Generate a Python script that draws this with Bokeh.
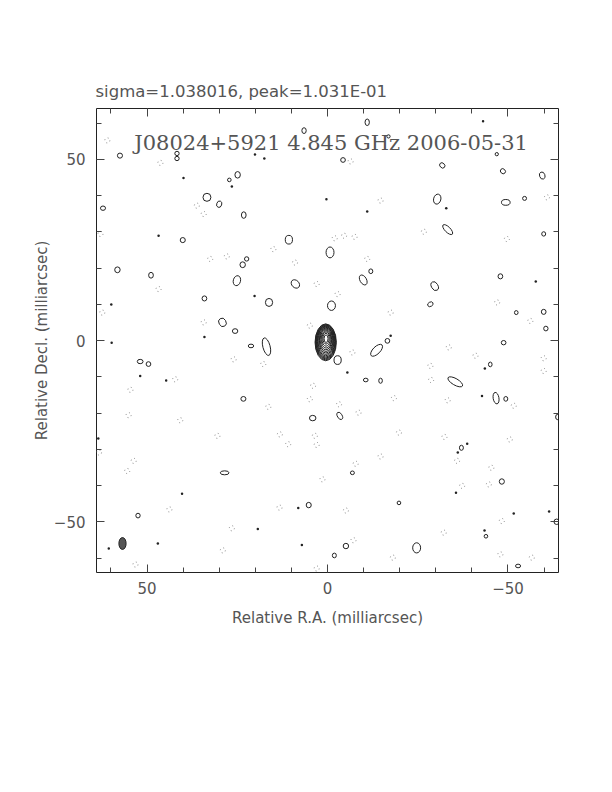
from bokeh.plotting import figure
from bokeh.models import (Range1d, LinearAxis, FixedTicker, ColumnDataSource, Label)
from bokeh.embed import file_html
from bokeh.resources import INLINE

# ---------------- data ----------------
title_text = "sigma=1.038016, peak=1.031E-01"
map_label = "J08024+5921 4.845 GHz 2006-05-31"
x_label = "Relative R.A. (milliarcsec)"
y_label = "Relative Decl. (milliarcsec)"

major_ticks = [-50, 0, 50]
major_tick_labels = ["\u221250", "0", "50"]
minor_ticks = [-60, -50, -40, -30, -20, -10, 0, 10, 20, 30, 40, 50, 60]
axis_limit = 64

# central source: nested contour ellipses (mas)
core_w = [5.9, 5.65, 5.4, 5.15, 4.9, 4.6, 4.3, 3.95, 3.6, 3.2, 2.75, 2.25, 1.7, 1.1]
core_h = [10.2, 9.8, 9.4, 9.0, 8.55, 8.05, 7.5, 6.9, 6.25, 5.55, 4.8, 3.95, 3.0, 2.1]
core_x = [0.5, 0.5, 0.5, 0.5, 0.5, 0.5, 0.5, 0.45, 0.45, 0.45, 0.4, 0.4, 0.4, 0.4]
core_y = [-0.5, -0.45, -0.4, -0.35, -0.3, -0.2, -0.1, 0.0, 0.1, 0.2, 0.3, 0.4, 0.5, 0.5]

# clean beam
beam_x = [56.8]
beam_y = [-56.0]
beam_w = [2.0]
beam_h = [3.3]

# positive noise contours
pos_x = [57.5, 41.7, 41.7, 24.9, 27.2, 33.4, 62.2, 30.0, 23.2, 40.1, 10.7, 22.4, 23.5, 58.2,
         48.9, 25.1, 8.9, 34.1, 16.2, 29.1, 25.6, 6.5,
         -11.0, -16.9, -46.9, -4.3, -31.8, -48.6, -59.5, -30.4, -49.4, -54.6, -33.3, -59.9,
         -0.7, -12.0, -9.9, -47.9, -29.7, -1.1, -28.5, -52.3, -59.9, -60.5,
         16.9, 21.2, 51.9, 49.6, 23.3, 4.1, 28.5, 52.5, 5.2,
         -13.6, -16.6, -2.8, -48.8, -45.1, -10.6, -14.7, -35.4, -46.7, -49.4, -3.4, -63.8,
         -37.1, -6.9, -48.3, -19.8, -43.9, -63.5, -5.1, -24.7, -1.9, -52.8]
pos_y = [51.0, 51.6, 50.2, 45.7, 44.3, 39.5, 36.5, 37.6, 34.6, 27.7, 27.8, 22.5, 20.9, 19.5,
         18.0, 16.5, 15.6, 11.6, 10.5, 5.0, 2.6, 57.9,
         60.2, 56.3, 51.4, 49.8, 48.3, 46.7, 45.5, 39.0, 38.1, 39.2, 30.6, 29.4,
         24.3, 19.1, 16.7, 17.7, 15.0, 9.6, 10.0, 7.7, 7.9, 3.3,
         -1.7, -1.5, -5.8, -6.5, -16.1, -21.4, -36.5, -48.3, -45.4,
         -2.7, -0.1, -5.4, -0.6, -6.6, -10.9, -11.1, -11.4, -15.9, -16.1, -20.8, -21.1,
         -29.6, -36.5, -38.9, -44.8, -54.0, -50.0, -56.7, -57.2, -59.3, -62.2]
pos_w = [1.4, 1.2, 1.2, 1.5, 1.0, 2.2, 1.4, 1.4, 1.3, 1.4, 2.0, 1.2, 1.5, 1.5,
         1.3, 2.0, 2.0, 1.3, 2.0, 2.0, 1.5, 1.2,
         1.2, 0.9, 0.9, 1.3, 1.3, 1.3, 1.5, 2.0, 2.4, 1.1, 1.5, 1.1,
         2.2, 1.1, 1.8, 1.3, 1.8, 2.2, 1.6, 1.0, 1.3, 1.2,
         2.0, 1.5, 1.6, 1.3, 1.4, 1.8, 2.4, 1.2, 1.4,
         2.0, 1.3, 2.0, 1.3, 1.0, 1.3, 1.0, 1.8, 1.6, 1.1, 1.3, 1.2,
         1.1, 1.1, 1.4, 1.0, 1.0, 1.5, 1.5, 2.2, 1.1, 1.4]
pos_h = [1.4, 1.2, 1.2, 1.8, 1.0, 2.2, 1.2, 1.8, 1.8, 1.4, 2.4, 1.2, 1.6, 1.6,
         1.6, 2.8, 2.6, 1.4, 2.2, 2.4, 1.3, 1.6,
         1.8, 0.9, 0.9, 1.3, 1.6, 1.5, 2.0, 2.8, 1.6, 1.1, 3.6, 1.2,
         3.0, 1.3, 3.0, 1.4, 2.6, 2.6, 1.2, 1.1, 1.4, 1.3,
         5.0, 1.0, 1.2, 1.3, 1.3, 1.5, 1.1, 1.3, 1.5,
         4.2, 1.3, 2.4, 1.2, 1.3, 1.0, 1.4, 4.6, 3.2, 1.3, 2.2, 1.5,
         1.4, 1.0, 1.5, 1.0, 1.0, 1.5, 1.5, 2.8, 1.3, 1.0]
pos_a = [0, 0, 0, 0, 0, 0, 0, -20, 0, 0, 0, 0, 0, 0,
         0, -15, 45, 0, 0, 30, 0, 0,
         0, 0, 0, 0, 45, 45, 20, -15, 0, 0, 45, 0,
         0, 0, 30, 0, 30, 0, 30, 0, 0, 0,
         15, 0, 0, 0, 0, 0, 0, 0, 0,
         -45, 0, 0, 0, 0, 0, 0, 60, 10, 0, 30, 0,
         0, 0, 0, 0, 0, 0, 0, 0, 0, 0]

# tiny positive islands (unresolved dots)
dot_x = [39.9, 20.1, 26.5, 46.8, 59.9, 20.2, 34.1, 17.5, 0.3,
         -43.1, -32.9, -11.0, -57.7, -17.5,
         40.3, 19.3, 8.1, 7.1, 47.0, 60.6, 63.5, 59.8, 51.9, 44.7,
         -5.5, -42.8, -43.6, -51.6, -35.6, -36.1, -38.7, -61.4, -43.5]
dot_y = [44.8, 51.3, 42.5, 28.9, 9.9, 12.3, 1.0, 50.2, 39.0,
         60.5, 36.5, 35.6, 16.3, 1.3,
         -42.3, -52.0, -46.2, -56.4, -56.0, -57.4, -27.0, -0.6, -9.8, -11.0,
         -8.8, -15.3, -7.7, -47.7, -42.0, -30.9, -28.5, -47.2, -52.4]

# negative noise contours (dotted)
neg_x = [61.0, 46.3, 34.3, 32.5, 27.9, 9.0, 3.0, 15.0, 62.9, 62.4, 46.8, 4.9, 34.3, 36.2,
         -6.4, -14.7, -4.6, -2.0, -7.5, -11.0, -26.7, -49.7, -60.8, -2.8, -17.5, -47.0, -56.2,
         17.8, 26.0, 4.9, 4.0, 42.2, 54.6, 55.1, 40.8, 30.5, 16.4, 13.2, 10.9, 3.5, 3.0,
         53.7, 55.5, 1.4, 43.8, 13.3, 26.5, 29.0, 53.2, 3.0, 63.3,
         -6.9, -33.6, -41.0, -59.9, -59.9, -28.5, -28.7, -18.4, -33.3, -3.2, -8.6, -51.6,
         -19.8, -32.4, -50.5, -7.8, -14.7, -35.9, -45.4, -37.3, -44.7, -5.1, -32.2, -7.2,
         -48.3, -47.9, -56.6, -18.1]
neg_y = [55.2, 49.0, 34.9, 22.5, 23.2, 21.5, 15.6, 25.2, 29.4, 7.7, 14.2, 4.1, 5.0, 37.2,
         49.4, 38.6, 28.9, 28.2, 28.6, 22.5, 30.0, 28.0, 39.5, 12.8, 7.7, 10.5, 5.4,
         -6.5, -5.2, -16.2, -12.5, -10.7, -13.6, -20.6, -22.0, -26.3, -18.3, -25.9, -28.6,
         -26.3, -28.8, -33.2, -36.0, -38.3, -46.6, -46.1, -51.8, -57.9, -61.8, -62.9, -30.9,
         -3.3, -1.9, -4.2, -8.4, -4.9, -7.0, -10.9, -15.9, -16.5, -17.6, -19.9, -18.0,
         -25.4, -26.6, -27.3, -34.0, -32.0, -33.2, -35.1, -40.1, -39.7, -46.9, -53.0, -55.1,
         -49.8, -59.0, -59.9, -59.9]

# ---------------- figure ----------------
FONT = "DejaVu Sans"
TXT = "#555555"

p = figure(frame_width=462, frame_height=464, output_backend="svg", toolbar_location=None,
           x_range=Range1d(axis_limit, -axis_limit), y_range=Range1d(-axis_limit, axis_limit),
           min_border_left=96, min_border_top=108, min_border_right=46, min_border_bottom=70,
           x_axis_label=x_label, y_axis_label=y_label)
p.grid.visible = False
p.outline_line_color = "#222222"
p.outline_line_width = 1
p.background_fill_color = "white"
p.border_fill_color = "white"

p.title.text = title_text
p.title.text_font = FONT
p.title.text_font_size = "16.5px"
p.title.text_font_style = "normal"
p.title.text_color = TXT
p.title.align = "left"
p.title.offset = -1
p.title.standoff = 15

for ax in (p.xaxis[0], p.yaxis[0]):
    ax.ticker = FixedTicker(ticks=major_ticks, minor_ticks=minor_ticks)
    ax.major_label_overrides = dict(zip(major_ticks, major_tick_labels))
    ax.major_tick_in = 8
    ax.major_tick_out = 0
    ax.minor_tick_in = 5
    ax.minor_tick_out = 0
    ax.axis_line_color = None
    ax.major_tick_line_color = "#444444"
    ax.minor_tick_line_color = "#444444"
    ax.major_label_text_font = FONT
    ax.major_label_text_font_size = "15px"
    ax.major_label_text_color = TXT
    ax.axis_label_text_font = FONT
    ax.axis_label_text_font_size = "15px"
    ax.axis_label_text_font_style = "normal"
    ax.axis_label_text_color = TXT

p.xaxis[0].major_label_standoff = 9
p.xaxis[0].axis_label_standoff = 12
p.yaxis[0].major_label_standoff = 11
p.yaxis[0].major_label_orientation = "horizontal"
p.yaxis[0].axis_label_standoff = 0

for loc in ("above", "right"):
    ax = LinearAxis(ticker=FixedTicker(ticks=major_ticks, minor_ticks=minor_ticks))
    ax.major_tick_in = 8
    ax.major_tick_out = 0
    ax.minor_tick_in = 5
    ax.minor_tick_out = 0
    ax.axis_line_color = None
    ax.major_tick_line_color = "#444444"
    ax.minor_tick_line_color = "#444444"
    ax.major_label_text_font_size = "0px"
    ax.major_label_text_color = None
    ax.major_label_standoff = 0
    p.add_layout(ax, loc)

LINE = "#222222"

neg_src = ColumnDataSource(dict(x=neg_x, y=neg_y))
p.ellipse(x="x", y="y", width=1.4, height=1.4, source=neg_src, fill_color=None,
          line_color="#888888", line_width=1, line_dash="1 3")

pos_src = ColumnDataSource(dict(x=pos_x, y=pos_y, w=pos_w, h=pos_h, a=pos_a))
p.ellipse(x="x", y="y", width="w", height="h", angle="a", angle_units="deg", source=pos_src,
          fill_color=None, line_color=LINE, line_width=1)

dot_src = ColumnDataSource(dict(x=dot_x, y=dot_y))
p.scatter(x="x", y="y", size=2.5, source=dot_src, marker="circle",
          fill_color=LINE, line_color=None)

core_src = ColumnDataSource(dict(x=core_x, y=core_y, w=core_w, h=core_h))
p.ellipse(x="x", y="y", width="w", height="h", source=core_src,
          fill_color=None, line_color=LINE, line_width=1)

beam_src = ColumnDataSource(dict(x=beam_x, y=beam_y, w=beam_w, h=beam_h))
p.ellipse(x="x", y="y", width="w", height="h", source=beam_src,
          fill_color="#555555", line_color="#222222", line_width=1)

p.add_layout(Label(x=-1, y=54.5, text=map_label, text_font="DejaVu Serif",
                   text_font_size="21px", text_color="#555555",
                   text_align="center", text_baseline="middle"))

open("out.html", "w").write(file_html(p, INLINE))
